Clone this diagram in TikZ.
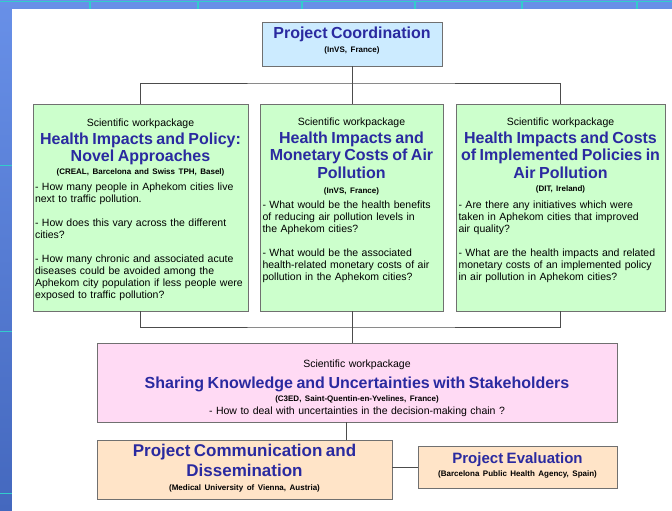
\documentclass[tikz,border=0pt]{standalone}
\usepackage{fontspec}
\setmainfont{Liberation Sans}

\definecolor{bandblue}{RGB}{104,144,232}
\definecolor{banddark}{RGB}{68,104,190}
\definecolor{gridteal}{RGB}{51,204,204}
\definecolor{coordfill}{RGB}{204,235,255}
\definecolor{wpgreen}{RGB}{204,255,204}
\definecolor{wppink}{RGB}{255,218,244}
\definecolor{wppeach}{RGB}{255,228,200}
\definecolor{titleblue}{RGB}{42,42,160}
\definecolor{boxline}{RGB}{112,112,112}

\newcommand{\scifont}{\fontsize{10.5}{11}\selectfont}
\newcommand{\wptitle}{\fontsize{16}{17.5}\selectfont\bfseries\color{titleblue}}
\newcommand{\bigtitle}{\fontsize{17}{19.5}\selectfont\bfseries\color{titleblue}}
\newcommand{\instfont}{\fontsize{8}{13}\selectfont\bfseries}
\newcommand{\askfont}{\fontsize{10.5}{12}\selectfont}

\tikzset{
  box/.style={draw=boxline,line width=0.9pt,rectangle,inner sep=0pt},
  boxtext/.style={anchor=north,inner sep=0pt,text width=#1,font=\askfont},
  link/.style={draw=black!70,line width=0.8pt},
}

\begin{document}
\begin{tikzpicture}[x=1pt,y=-1pt]
  \useasboundingbox (0,0) rectangle (672,511);

  % slide background
  \shade[top color=bandblue,bottom color=banddark] (0,0) rectangle (672,511);
  \fill[white] (12,9) rectangle (672,511);
  \draw[gridteal,line width=0.8pt] (0,1) -- (672,1);
  \foreach \x in {90,198,302,415,522,637}
    \draw[gridteal,line width=1.3pt] (\x,1) -- (\x,9);
  \foreach \y in {165,331,493}
    \draw[gridteal,line width=1pt] (0,\y) -- (12,\y);

  % boxes
  \node[box,fill=coordfill,minimum width=180pt,minimum height=44pt] (coord) at (352,44) {};
  \node[box,fill=wpgreen,minimum width=215pt,minimum height=207pt] (wpa) at (140.5,207.5) {};
  \node[box,fill=wpgreen,minimum width=183pt,minimum height=207pt] (wpb) at (351.5,207.5) {};
  \node[box,fill=wpgreen,minimum width=209pt,minimum height=207pt] (wpc) at (560.5,207.5) {};
  \node[box,fill=wppink,minimum width=520pt,minimum height=79pt] (wpd) at (357,382.5) {};
  \node[box,fill=wppeach,minimum width=295pt,minimum height=59pt] (comm) at (244.5,469.5) {};
  \node[box,fill=wppeach,minimum width=199pt,minimum height=42pt] (eval) at (517.5,467) {};

  % texts
  \node[boxtext=176pt] (coordtxt) at (352,27) {\centering
    {\wptitle Project Coordination\par}
    {\instfont\setlength{\baselineskip}{14pt}(InVS, France)\par}};

  \node[boxtext=211pt] (wpatxt) at (140.5,119) {%
    {\centering
    {\scifont Scientific workpackage\par}
    {\wptitle Health Impacts and Policy:\\Novel Approaches\par}
    {\instfont (CREAL, Barcelona and Swiss TPH, Basel)\par}}
    \vspace{4pt}\raggedright
    - How many people in Aphekom cities live\\next to traffic pollution.\par
    \vspace{12pt}
    - How does this vary across the different\\cities?\par
    \vspace{12pt}
    - How many chronic and associated acute\\diseases could be avoided among the\\Aphekom city population if less people were\\exposed to traffic pollution?\par};

  \node[boxtext=178pt] (wpbtxt) at (351.5,118) {%
    {\centering
    {\scifont Scientific workpackage\par}
    {\wptitle Health Impacts and\\Monetary Costs of Air\\Pollution\par}
    {\instfont\setlength{\baselineskip}{15pt}(InVS, France)\par}}
    \vspace{3pt}\raggedright
    - What would be the health benefits\\of reducing air pollution levels in\\the Aphekom cities?\par
    \vspace{12pt}
    - What would be the associated\\health-related monetary costs of air\\pollution in the Aphekom cities?\par};

  \node[boxtext=204pt] (wpctxt) at (560.5,118) {%
    {\centering
    {\scifont Scientific workpackage\par}
    {\wptitle Health Impacts and Costs\\of Implemented Policies in\\Air Pollution\par}
    {\instfont (DIT, Ireland)\par}}
    \vspace{5pt}\raggedright
    - Are there any initiatives which were\\taken in Aphekom cities that improved\\air quality?\par
    \vspace{12pt}
    - What are the health impacts and related\\monetary costs of an implemented policy\\in air pollution in Aphekom cities?\par};

  \node[boxtext=510pt] (wpdtxt) at (357,360) {\centering
    {\scifont Scientific workpackage\par}
    \vspace{3pt}
    {\wptitle Sharing Knowledge and Uncertainties with Stakeholders\par}
    {\instfont (C3ED, Saint-Quentin-en-Yvelines, France)\par}
    \vspace{1pt}
    {\askfont - How to deal with uncertainties in the decision-making chain ?\par}};

  \node[boxtext=291pt] (commtxt) at (244.5,444) {\centering
    {\bigtitle Project Communication and\\Dissemination\par}
    {\instfont\setlength{\baselineskip}{14pt}(Medical University of Vienna, Austria)\par}};

  \node[boxtext=197pt] (evaltxt) at (517.5,452) {\centering
    {\fontsize{15}{17}\selectfont\bfseries\color{titleblue}Project Evaluation\par}
    {\instfont\setlength{\baselineskip}{13pt}(Barcelona Public Health Agency, Spain)\par}};

  % connectors
  \coordinate (tbus) at (352,83);
  \coordinate (bbus) at (352,327);
  \coordinate (cdrop) at (346,430);
  \draw[link] (coord.south) -- (wpb.north -| coord.south);
  \draw[link] (wpa.north) |- (tbus) -| (wpc.north);
  \draw[link] (wpa.south) |- (bbus) -| (wpc.south);
  \draw[link] (wpb.south -| bbus) -- (wpd.north -| bbus);
  \draw[link] (wpd.south -| cdrop) -- (comm.north -| cdrop);
  \draw[link] (eval.west) -- (eval.west -| comm.east);

\end{tikzpicture}
\end{document}
